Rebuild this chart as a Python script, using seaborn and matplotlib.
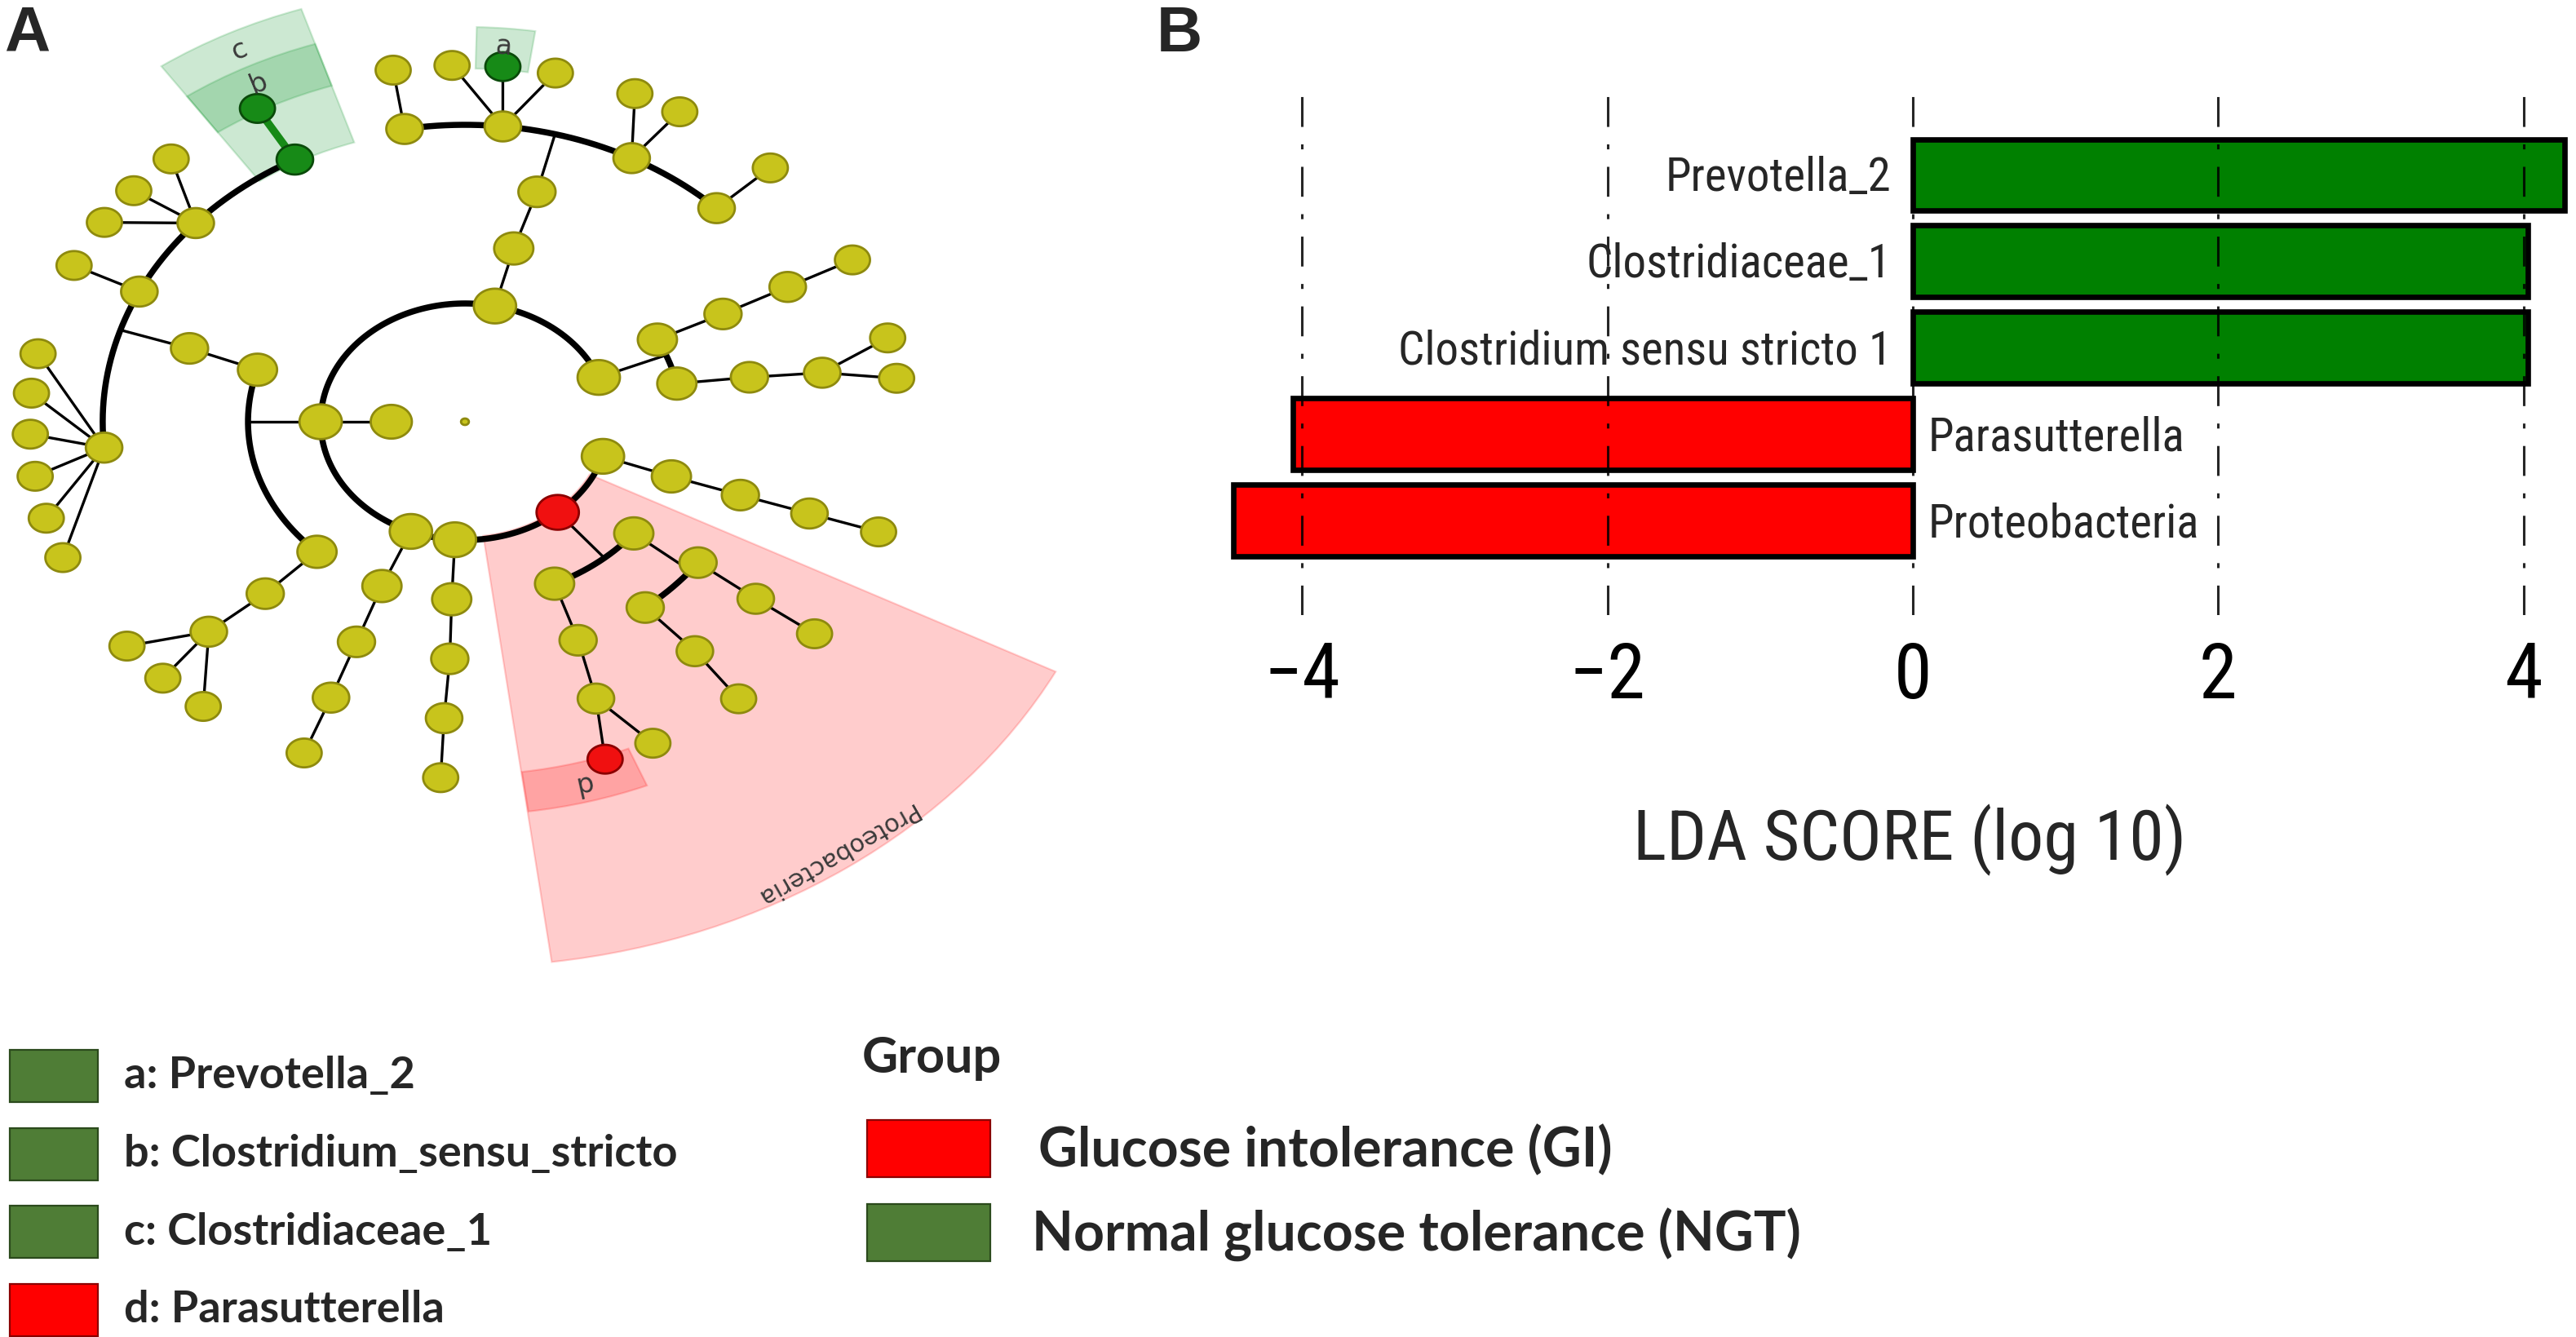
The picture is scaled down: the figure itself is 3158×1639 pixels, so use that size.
import numpy as np
import pandas as pd
import matplotlib
matplotlib.use("Agg")
import matplotlib.pyplot as plt
import seaborn as sns
from matplotlib.path import Path
from matplotlib.markers import MarkerStyle
from matplotlib.patches import Wedge, Rectangle
from matplotlib import font_manager as fm

sns.set_theme(style="white")
plt.rcParams["font.family"] = ["DejaVu Sans"]

# ------------------------------------------------------------------ data
taxa = ["Prevotella_2", "Clostridiaceae_1", "Clostridium sensu stricto 1",
        "Parasutterella", "Proteobacteria"]
lda_scores = [4.27, 4.03, 4.03, -4.06, -4.45]
taxa_group = ["NGT", "NGT", "NGT", "GI", "GI"]
lda_ticks = [-4, -2, 0, 2, 4]

clade_letters = ["a", "b", "c", "d"]
clade_names = ["Prevotella_2", "Clostridium_sensu_stricto", "Clostridiaceae_1", "Parasutterella"]
clade_groups = ["NGT", "NGT", "NGT", "GI"]
group_keys = ["GI", "NGT"]
group_names = ["Glucose intolerance (GI)", "Normal glucose tolerance (NGT)"]

# cladogram: parent, angle (deg), taxonomic level, link, status
node_parent = [-1, 0, 0, 0, 0, 0, 0, 0, 1, 1, 1, 9, 11, 11, 11, 11,
               12, 12, 12, 12, 12, 12, 13, 14, 14, 14, 15,
               10, 27, 28, 28, 28, 7, 32, 33, 34, 6, 36, 37, 38,
               5, 5, 40, 42, 43, 43, 41, 41, 46, 48, 47, 50,
               4, 52, 53, 54, 3, 3, 56, 58, 59, 57, 61, 62, 62,
               2, 65, 66, 66, 66, 66, 67, 68, 68, 68, 69, 69, 70]
node_angle = [0, 180, 78, 22, 343, 310, 266, 248, 180, 163, 227, 162, 185, 154, 138, 118,
              169, 175.4, 182, 188.8, 195.7, 202.4, 154, 132.5, 139.6, 146, 118.5,
              226.4, 225, 219, 226, 233, 247.5, 248, 248.3, 248.3, 266.5, 267, 266.7, 266.8,
              -65.6, -38.9, -67, -68.8, -64.4, -71.2, -36.4, -51.5, -36.6, -36.5, -50.6, -51,
              -17.9, -18, -18, -18, 27.5, 12.4, 27, 27, 27, 10.8, 9.5, 13.6, 7,
              77, 75.6, 99.6, 84, 62.6, 46, 99.5, 91.7, 85, 78, 67, 60.4, 45.4]
node_level = [0, 1, 1, 1, 1, 1, 1, 1, 0.5, 2, 2, 3, 4, 4, 4, 4,
              5, 5, 5, 5, 5, 5, 5, 5, 5, 5, 5,
              3, 4, 5, 5, 5, 2, 3, 4, 5, 2, 3, 4, 5,
              2, 2, 3, 4, 5, 5, 3, 3, 4, 5, 4, 5,
              2, 3, 4, 5, 2, 2, 3, 4, 5, 3, 4, 5, 5,
              2, 3, 4, 4, 4, 4, 5, 5, 5, 5, 5, 5, 5]
node_link = (["-"] + ["arc"] * 7 + ["line", "arc", "arc", "line", "arc", "arc", "arc", "arc"]
             + ["line"] * 11
             + ["line"] * 5 + ["line"] * 8
             + ["arc", "arc", "line", "line", "line", "line", "arc", "arc", "line", "line", "line", "line"]
             + ["line"] * 4 + ["arc", "arc"] + ["line"] * 7
             + ["line", "line", "arc", "arc", "arc", "arc"] + ["line"] * 7)
node_status = ["n"] * len(node_parent)
for i, s in [(5, "GI"), (45, "GI"), (15, "NGT"), (26, "NGT"), (73, "NGT")]:
    node_status[i] = s

# highlighted clades: node, label, sector angles, outer radius
hl_node = [5, 15, 26, 73, 45]
hl_label = ["Proteobacteria", "c", "b", "a", "d"]
hl_theta1 = [-82.5, 108, 108, 81.6, -82.4]
hl_theta2 = [-27.3, 125, 125, 88.6, -67.7]
hl_outer = [668, 532, 487, 484, 482]

# ------------------------------------------------------------------ layout / style
W, H, DPI = 3158, 1639, 200
LEVEL_R = {0: 0, 0.5: 74, 1: 145, 2: 218, 3: 291, 4: 364, 5: 437}
LEVEL_S = {0: 12, 0.5: 330, 1: 350, 2: 300, 3: 270, 4: 260, 5: 240}
BAR_COL = {"NGT": "#008000", "GI": "#FF0000"}
LEG_COL = {"NGT": "#4F7D36", "GI": "#FF0000"}
LEG_EDGE = {"NGT": "#2B4A1C", "GI": "#8B0000"}
NODE_FACE = {"n": "#C8C41C", "NGT": "#178A17", "GI": "#F01010"}
NODE_EDGE = {"n": "#8E8A0E", "NGT": "#0A4A0A", "GI": "#8B0000"}


def fx(px):
    return px / W


def fy(py):
    return 1 - py / H


names = {f.name for f in fm.fontManager.ttflist}


def pick(cands):
    for c in cands:
        if c in names:
            return c
    return "DejaVu Sans"


NARROW = pick(["Liberation Sans Narrow", "Roboto Condensed", "Open Sans Condensed", "DejaVu Sans"])
BOLDF = [pick(["Lato", "Open Sans", "DejaVu Sans"]), "DejaVu Sans"]
ARIAL = [pick(["Liberation Sans", "DejaVu Sans"]), "DejaVu Sans"]

fig = plt.figure(figsize=(W / DPI, H / DPI), dpi=DPI)
fig.patch.set_facecolor("white")

# ------------------------------------------------------------------ panel A : cladogram
axA = fig.add_axes([0, fy(1250), fx(1400), 1250 / H])
axA.set_xlim(-467.2, 680.3)
axA.set_ylim(-733, 517)
axA.set_axis_off()

nodes = pd.DataFrame({"parent": node_parent, "angle": node_angle, "level": node_level,
                      "link": node_link, "status": node_status})
nodes["r"] = nodes["level"].map(LEVEL_R)
nodes["x"] = nodes["r"] * np.cos(np.radians(nodes["angle"]))
nodes["y"] = nodes["r"] * np.sin(np.radians(nodes["angle"]))


def pol(r, a):
    a = np.radians(a)
    return r * np.cos(a), r * np.sin(a)


# highlight sectors
for nd, lab, t1, t2, ro in zip(hl_node, hl_label, hl_theta1, hl_theta2, hl_outer):
    st = node_status[nd]
    ri = LEVEL_R[node_level[nd]] - 4
    col = "#FF0000" if st == "GI" else "#009020"
    axA.add_patch(Wedge((0, 0), ro, t1, t2, width=ro - ri, facecolor=col, alpha=0.2,
                        edgecolor="none", zorder=1))
    axA.add_patch(Wedge((0, 0), ro, t1, t2, width=ro - ri, facecolor="none",
                        edgecolor=col, alpha=0.18, lw=0.8, zorder=1))

# edges
THICK, THIN = 2.7, 1.2
for pid, grp in nodes.groupby("parent"):
    if pid < 0:
        continue
    p = nodes.loc[pid]
    arcs = grp[grp["link"] == "arc"]
    if len(arcs):
        rc = arcs["r"].iloc[0]
        a0, a1 = arcs["angle"].min(), arcs["angle"].max()
        th = np.linspace(a0, a1, 200)
        axA.plot(*pol(rc, th), color="black", lw=THICK, solid_capstyle="round", zorder=2)
        if p["r"] > 0:
            mid = (a0 + a1) / 2
            pa = p["angle"] + 360 * np.round((mid - p["angle"]) / 360)
            axA.plot(*zip(pol(p["r"], pa), pol(rc, pa)), color="black", lw=THIN, zorder=2)
    for _, c in grp[grp["link"] == "line"].iterrows():
        both = (p["status"] != "n") and (c["status"] != "n")
        axA.plot([p["x"], c["x"]], [p["y"], c["y"]],
                 color="#178A17" if both else "black",
                 lw=3.4 if both else THIN, zorder=2 if not both else 3)

# nodes (ellipse marker to follow the panel's horizontal stretch)
bbox = axA.get_position()
sx = bbox.width * W / (axA.get_xlim()[1] - axA.get_xlim()[0])
sy = bbox.height * H / (axA.get_ylim()[1] - axA.get_ylim()[0])
stretch = sx / sy
tt = np.linspace(0, 2 * np.pi, 61)
ell = MarkerStyle(Path(np.column_stack([stretch * np.cos(tt), np.sin(tt)]), closed=True))
for st in ["n", "NGT", "GI"]:
    sub = nodes[nodes["status"] == st]
    axA.scatter(sub["x"], sub["y"], s=sub["level"].map(LEVEL_S), marker=ell,
                color=NODE_FACE[st], edgecolors=NODE_EDGE[st], linewidths=1.0, zorder=4)

# clade labels along the circle
for nd, lab, t1, t2, ro in zip(hl_node, hl_label, hl_theta1, hl_theta2, hl_outer):
    am = (t1 + t2) / 2 if lab != "d" else -75
    rl = ro - 23 if lab != "Proteobacteria" else ro - 20
    p0 = axA.transData.transform(pol(rl, am + 0.5))
    p1 = axA.transData.transform(pol(rl, am - 0.5))
    rot = np.degrees(np.arctan2(p1[1] - p0[1], p1[0] - p0[0]))
    axA.text(*pol(rl, am), lab, rotation=rot, rotation_mode="anchor", ha="center",
             va="center", fontsize=11 if lab == "Proteobacteria" else 12,
             color="#3a3a3a", zorder=5)

# ------------------------------------------------------------------ panel B : LDA bars
axB = fig.add_axes([fx(1470), fy(754), (3158 - 1470) / W, (754 - 105) / H])
dfB = pd.DataFrame({"taxon": taxa, "lda": lda_scores, "group": taxa_group})
sns.barplot(data=dfB, x="lda", y="taxon", hue="group", palette=BAR_COL, dodge=False,
            width=0.83, edgecolor="black", linewidth=2.4, legend=False, ax=axB,
            orient="h", saturation=1)
axB.set_xlim(-4.674, 4.343)
axB.set_ylim(5.09, -1.033)
for s in axB.spines.values():
    s.set_visible(False)
axB.set_yticks([])
axB.set_ylabel("")
axB.set_xticks(lda_ticks)
axB.set_xticklabels([f"{t}".replace("-", "\u2212") for t in lda_ticks],
                    fontsize=34, family=NARROW)
axB.tick_params(axis="x", length=0, pad=11, colors="black")
axB.xaxis.grid(True, color="black", lw=1.1, linestyle=(0, (12, 7, 2, 7)), alpha=0.85)
axB.set_axisbelow(False)
for i, (t, v) in enumerate(zip(taxa, lda_scores)):
    if v > 0:
        axB.text(-0.14, i + 0.04, t, ha="right", va="center", fontsize=20.5, family=NARROW)
    else:
        axB.text(0.10, i + 0.04, t, ha="left", va="center", fontsize=20.5, family=NARROW)
axB.set_xlabel("LDA SCORE (log 10)", fontsize=31, family=NARROW)
axB.xaxis.set_label_coords((2341 - 1470) / (3158 - 1470), -(1030 - 754) / (754 - 105))
axB.xaxis.label.set_verticalalignment("center")

# ------------------------------------------------------------------ panel letters
fig.text(fx(5), fy(62), "A", fontsize=28, weight="bold", family=ARIAL, va="baseline")
fig.text(fx(1418), fy(63), "B", fontsize=28, weight="bold", family=ARIAL, va="baseline")

# ------------------------------------------------------------------ legends
for i, (let, nm, g) in enumerate(zip(clade_letters, clade_names, clade_groups)):
    cy = 1319 + 95.5 * i
    fig.add_artist(Rectangle((fx(12), fy(cy + 32)), (120 - 12) / W, 64 / H,
                             transform=fig.transFigure, facecolor=LEG_COL[g],
                             edgecolor=LEG_EDGE[g], lw=0.8))
    fig.text(fx(152), fy(cy), f"{let}: {nm}", ha="left", va="center", fontsize=19.5,
             weight="bold", family=BOLDF)

fig.text(fx(1057), fy(1297), "Group", ha="left", va="center", fontsize=22,
         weight="bold", family=BOLDF)
for i, (g, nm) in enumerate(zip(group_keys, group_names)):
    cy = [1408, 1511][i]
    fig.add_artist(Rectangle((fx(1063), fy(cy + 35)), (1214 - 1063) / W, 70 / H,
                             transform=fig.transFigure, facecolor=LEG_COL[g],
                             edgecolor=LEG_EDGE[g], lw=0.8))
    fig.text(fx([1273, 1265][i]), fy(cy + 3), nm, ha="left", va="center", fontsize=23.8,
             weight="bold", family=BOLDF)

fig.savefig("out.png", dpi=DPI, facecolor="white")
